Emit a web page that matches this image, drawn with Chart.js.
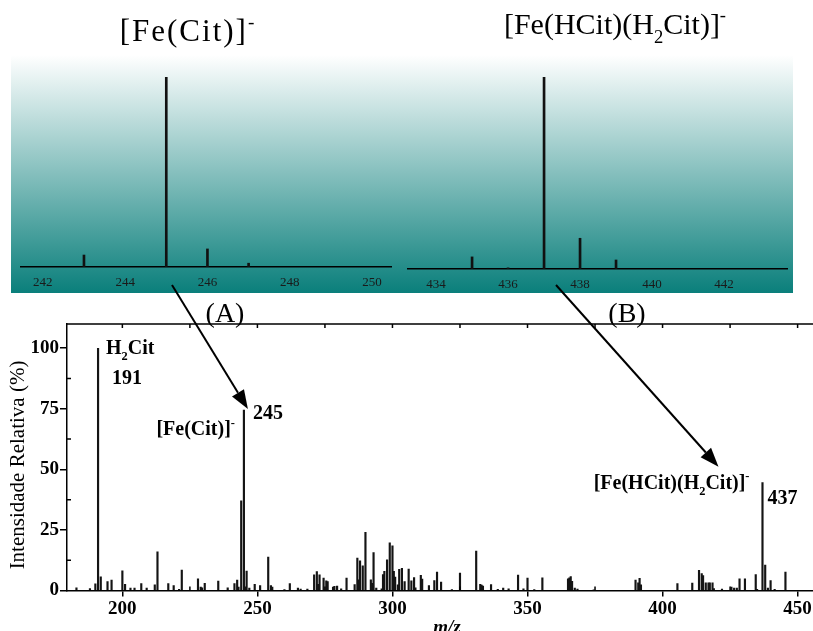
<!DOCTYPE html>
<html>
<head>
<meta charset="utf-8">
<title>ESI-MS citrato de ferro</title>
<script src="https://cdn.jsdelivr.net/npm/chart.js@4.4.1/dist/chart.umd.min.js"></script>
<style>
  body { margin: 0; background: #fff; }
  #wrap { position: relative; width: 813px; height: 631px; overflow: hidden; }
  #band { position: absolute; left: 11px; top: 55px; width: 782px; height: 238px;
          background: linear-gradient(to bottom, #ffffff 0%, #0a7f7b 100%); }
  #insetA { position: absolute; left: 11px; top: 55px; }
  #insetB { position: absolute; left: 403px; top: 55px; }
  #main { position: absolute; left: 0; top: 0; z-index: 2; }
</style>
</head>
<body>
<div id="wrap">
  <div id="band"></div>
  <canvas id="insetA" width="392" height="238"></canvas>
  <canvas id="insetB" width="390" height="238"></canvas>
  <canvas id="main" width="813" height="631"></canvas>
</div>
<script>
'use strict';

const SERIF = '"Liberation Serif", "Times New Roman", serif';

// full spectrum, m/z and relative intensity (%)
let mzValues = [
  183, 188, 190, 191, 192, 194.5, 196, 200, 201, 203, 204.5, 207, 209, 212, 213, 217, 219, 221, 222,
  228, 229, 229.5, 230.5, 235.5, 239, 241.5, 242.5, 243, 244, 245, 245.5, 246, 247, 249, 251,
  254, 255, 255.5, 260, 262, 265, 266, 268.5, 271, 272, 272.5, 273, 274.5, 275.5, 276, 278, 278.5,
  279.5, 281, 283, 286, 287, 287.5, 288, 289, 290, 292, 292.5, 293, 294, 296, 296.5, 297, 298,
  299, 300, 300.5, 301, 302, 302.5, 303.5, 304.5, 306, 307, 308, 308.5, 310.5, 311, 313.5, 315.5,
  316.5, 318, 322, 325, 331, 332.5, 333, 333.5, 336.5, 339, 341, 343, 346.5, 348.5, 350, 352.5,
  355.5, 365, 365.5, 366, 366.5, 367.5, 368.5, 374.5, 390, 391, 391.5, 392, 405.5, 411, 413.5,
  414.5, 415, 416, 417, 417.5, 418.5, 419, 422, 425.5, 426.5, 427.5, 428.5, 430.5, 434.5, 435,
  437, 438, 439, 440, 441.5, 445.5
];
let intensityValues = [
  1.1, 0.8, 2.8, 100, 5.6, 3.7, 4.3, 8.1, 2.5, 1, 1, 2.9, 1, 2.3, 16, 2.9, 2, 0.5, 8.4,
  4.8, 1.4, 1.1, 3, 3.9, 1.1, 2.9, 4.3, 1.4, 37, 74.5, 1.5, 8, 1, 2.5, 2,
  13.8, 2, 1.4, 0.4, 2.9, 1, 0.6, 0.6, 6.5, 7.8, 2.5, 6.5, 5.1, 4, 3.7, 1.4, 1.7,
  1.8, 0.7, 5.1, 2.4, 13.4, 4.4, 12.2, 10.2, 24, 4.4, 3, 15.7, 1, 0.7, 6.6, 7.9, 12.7,
  19.7, 18.4, 7.9, 5.5, 2.3, 8.7, 9.1, 3.7, 8.8, 4, 5.3, 1.1, 6.3, 4.7, 2, 4.1,
  7.6, 3.5, 0.4, 7.2, 16.3, 2.5, 2.2, 1.8, 2.4, 0.5, 1, 0.7, 6.4, 0.7, 5.1, 0.4,
  5.2, 4.8, 5.2, 5.7, 3.8, 1, 0.6, 0.2, 4.3, 3.2, 5, 2.3, 2.9, 3.1, 8.3,
  7, 6.2, 3.2, 3.2, 3.2, 3.2, 0.8, 0.6, 1.4, 1, 1, 4.8, 4.8, 6.6, 0.5,
  44.5, 10.5, 1, 4.1, 0.5, 7.6
];
let xTickValues = [200, 250, 300, 350, 400, 450];
let yTickValues = [0, 25, 50, 75, 100];

// isotope patterns of the two iron complexes
let mzFeCit = [243, 245, 246, 247];
let intensityFeCit = [6.3, 100, 9.5, 2];
let ticksFeCit = [242, 244, 246, 248, 250];

let mzFeHCit = [435, 436, 437, 438, 439];
let intensityFeHCit = [6.3, 0.6, 100, 16, 4.7];
let ticksFeHCit = [434, 436, 438, 440, 442];

function toPoints(xs, ys) {
  return xs.map((x, i) => ({ x: x, y: ys[i] }));
}

function explicitTicks(values) {
  return function (scale) {
    scale.ticks = values.map(v => ({ value: v }));
  };
}

// write text made of pieces, some of them subscript or superscript
function drawRich(ctx, parts, x, y, size, weight, align, spacing) {
  function fontFor(p) {
    let s = p[1] ? size * 0.62 : size;
    return weight + ' ' + s + 'px ' + SERIF;
  }
  ctx.letterSpacing = (spacing || 0) + 'px';
  let widths = parts.map(p => { ctx.font = fontFor(p); return ctx.measureText(p[0]).width; });
  let total = widths.reduce((a, b) => a + b, 0);
  let cx = align === 'right' ? x - total : align === 'center' ? x - total / 2 : x;
  ctx.textAlign = 'left';
  ctx.textBaseline = 'alphabetic';
  parts.forEach((p, i) => {
    ctx.font = fontFor(p);
    let dy = p[1] === 'sub' ? size * 0.3 : p[1] === 'sup' ? -size * 0.42 : 0;
    ctx.fillText(p[0], cx, y + dy);
    cx += widths[i];
  });
  ctx.letterSpacing = '0px';
}

function drawArrow(ctx, x0, y0, x1, y1) {
  let ang = Math.atan2(y1 - y0, x1 - x0);
  let headLen = 19, headHalf = 7;
  let bx = x1 - headLen * Math.cos(ang);
  let by = y1 - headLen * Math.sin(ang);
  ctx.beginPath();
  ctx.moveTo(x0, y0);
  ctx.lineTo(bx, by);
  ctx.stroke();
  ctx.beginPath();
  ctx.moveTo(x1, y1);
  ctx.lineTo(bx + headHalf * Math.sin(ang), by - headHalf * Math.cos(ang));
  ctx.lineTo(bx - headHalf * Math.sin(ang), by + headHalf * Math.cos(ang));
  ctx.closePath();
  ctx.fill();
}

// frame, minor ticks, labels and arrows of the main spectrum
const decorPlugin = {
  id: 'decor',
  afterDraw(chart) {
    const ctx = chart.ctx;
    const area = chart.chartArea;
    const xs = chart.scales.x;
    const ys = chart.scales.y;
    ctx.save();
    ctx.strokeStyle = '#000';
    ctx.fillStyle = '#000';
    ctx.lineWidth = 1.5;

    // top frame line with ticks every 25
    ctx.beginPath();
    ctx.moveTo(area.left, area.top);
    ctx.lineTo(area.right, area.top);
    for (let v = 200; v <= 450; v += 25) {
      let px = xs.getPixelForValue(v);
      ctx.moveTo(px, area.top);
      ctx.lineTo(px, area.top + 4);
    }
    // minor ticks inward
    for (let v = 225; v <= 450; v += 50) {
      let px = xs.getPixelForValue(v);
      ctx.moveTo(px, area.bottom);
      ctx.lineTo(px, area.bottom - 4);
    }
    for (let v = 12.5; v <= 100; v += 25) {
      let py = ys.getPixelForValue(v);
      ctx.moveTo(area.left, py);
      ctx.lineTo(area.left + 4, py);
    }
    ctx.stroke();

    // axis titles
    ctx.save();
    ctx.translate(18, 465);
    ctx.rotate(-Math.PI / 2);
    ctx.font = '21px ' + SERIF;
    ctx.textAlign = 'center';
    ctx.textBaseline = 'middle';
    ctx.fillText('Intensidade Relativa (%)', 0, 0);
    ctx.restore();
    ctx.font = 'italic bold 19px ' + SERIF;
    ctx.textAlign = 'center';
    ctx.textBaseline = 'alphabetic';
    ctx.fillText('m/z', (area.left + area.right) / 2 + 7, 633);

    // peak labels
    let x191 = xs.getPixelForValue(191), y191 = ys.getPixelForValue(100);
    let x245 = xs.getPixelForValue(245), y245 = ys.getPixelForValue(74.5);
    let x437 = xs.getPixelForValue(437), y437 = ys.getPixelForValue(44.5);
    drawRich(ctx, [['H'], ['2', 'sub'], ['Cit']], x191 + 8, y191 + 6, 20, 'bold', 'left');
    drawRich(ctx, [['191']], x191 + 14, y191 + 36, 20, 'bold', 'left');
    drawRich(ctx, [['245']], x245 + 9, y245 + 9, 20, 'bold', 'left');
    drawRich(ctx, [['[Fe(Cit)]'], ['-', 'sup']], x245 - 9, y245 + 25, 20, 'bold', 'right');
    drawRich(ctx, [['437']], x437 + 5, y437 + 21, 20, 'bold', 'left');
    drawRich(ctx, [['[Fe(HCit)(H'], ['2', 'sub'], ['Cit)]'], ['-', 'sup']], x437 - 13, y437 + 6, 20, 'bold', 'right');

    // inset captions and titles
    drawRich(ctx, [['(A)']], 225, 322, 28, 'normal', 'center');
    drawRich(ctx, [['(B)']], 627, 322, 28, 'normal', 'center');
    drawRich(ctx, [['[Fe(Cit)]'], ['-', 'sup']], 188, 41, 31, 'normal', 'center', 2);
    drawRich(ctx, [['[Fe(HCit)(H'], ['2', 'sub'], ['Cit)]'], ['-', 'sup']], 615, 34, 30, 'normal', 'center');

    // arrows from the isotope patterns down to their peaks
    ctx.lineWidth = 2;
    drawArrow(ctx, 172, 285, x245 + 4, y245 - 1);
    drawArrow(ctx, 556, 285, x437 - 44, y437 - 16);
    ctx.restore();
  }
};

new Chart(document.getElementById('main'), {
  type: 'bar',
  data: {
    datasets: [{
      data: toPoints(mzValues, intensityValues),
      backgroundColor: '#141414',
      barThickness: 1.5,
      borderWidth: 0
    }]
  },
  options: {
    responsive: false,
    animation: false,
    layout: { padding: { top: 324, right: 0, left: 0, bottom: 0 } },
    plugins: { legend: { display: false }, tooltip: { enabled: false } },
    scales: {
      x: {
        type: 'linear',
        offset: false,
        min: 179.5,
        max: 455.7,
        afterBuildTicks: explicitTicks(xTickValues),
        afterFit(scale) { scale.height = 40.5; scale.paddingLeft = 0; scale.paddingRight = 0; },
        grid: { offset: false, drawOnChartArea: false, tickLength: 6, color: '#000', lineWidth: 1.5 },
        border: { display: true, color: '#000', width: 1.5 },
        ticks: { color: '#000', padding: 1, maxRotation: 0, font: { family: SERIF, size: 19, weight: 'bold' } }
      },
      y: {
        min: 0,
        max: 110,
        afterBuildTicks: explicitTicks(yTickValues),
        afterFit(scale) { scale.width = 67; scale.paddingTop = 0; scale.paddingBottom = 0; },
        grid: { drawOnChartArea: false, tickLength: 7, color: '#000', lineWidth: 1.5 },
        border: { display: true, color: '#000', width: 1.5 },
        ticks: { color: '#000', padding: 1, font: { family: SERIF, size: 19, weight: 'bold' } }
      }
    }
  },
  plugins: [decorPlugin]
});

// small isotope pattern chart on the shaded band
function drawInset(canvasId, xs, ys, ticks, minX, maxX, pad, axisHeight) {
  return new Chart(document.getElementById(canvasId), {
    type: 'bar',
    data: {
      datasets: [{
        data: toPoints(xs, ys),
        backgroundColor: '#111',
        barThickness: 2,
        borderWidth: 0
      }]
    },
    options: {
      responsive: false,
      animation: false,
      layout: { padding: pad },
      plugins: { legend: { display: false }, tooltip: { enabled: false } },
      scales: {
        x: {
          type: 'linear',
          offset: false,
          min: minX,
          max: maxX,
          afterBuildTicks: explicitTicks(ticks),
          afterFit(scale) { scale.height = axisHeight; scale.paddingLeft = 0; scale.paddingRight = 0; },
          grid: { display: false, offset: false },
          border: { display: true, color: '#000', width: 1.5 },
          ticks: { color: '#1a1a1a', padding: 0, maxRotation: 0, font: { family: SERIF, size: 13 } }
        },
        y: { display: false, min: 0, max: 100 }
      }
    }
  });
}

drawInset('insetA', mzFeCit, intensityFeCit, ticksFeCit, 241.47, 250.46,
  { left: 10, right: 12, top: 22, bottom: 0 }, 26);
drawInset('insetB', mzFeHCit, intensityFeHCit, ticksFeHCit, 433.22, 443.75,
  { left: 5, right: 6, top: 22, bottom: 0 }, 24);
</script>
</body>
</html>
